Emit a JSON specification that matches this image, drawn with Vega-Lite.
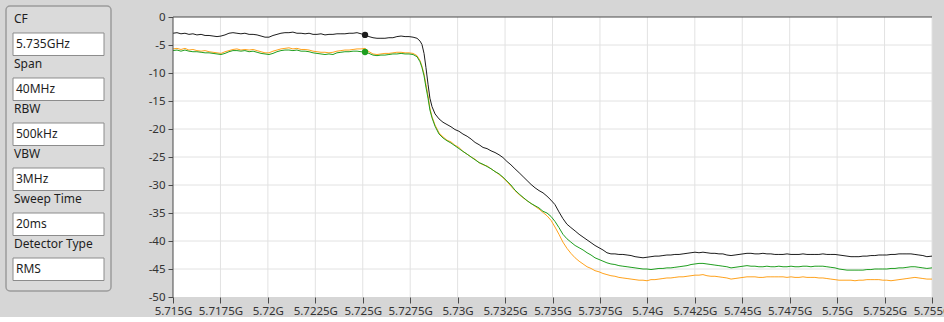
{
"$schema": "https://vega.github.io/schema/vega-lite/v6.json",
"background": "#d6d6d6",
"padding": {"left": 5, "top": 5, "right": 0, "bottom": 0},
"config": {"font": "Noto Sans", "view": {"stroke": null}},
"spacing": 36,
"hconcat": [
{
 "width": 105, "height": 285,
 "view": {"fill": "#dadada", "stroke": "#9c9c9c", "strokeWidth": 1.5, "cornerRadius": 4},
 "data": {"values": [
  {"label": "CF", "value": "5.735GHz"},
  {"label": "Span", "value": "40MHz"},
  {"label": "RBW", "value": "500kHz"},
  {"label": "VBW", "value": "3MHz"},
  {"label": "Sweep Time", "value": "20ms"},
  {"label": "Detector Type", "value": "RMS"}
 ]},
 "layer": [
  {"mark": {"type": "rect", "fill": "white", "stroke": "#8c8c8c", "strokeWidth": 1},
   "encoding": {
    "y": {"field": "value", "type": "nominal", "axis": null, "scale": {"type": "band", "domain": ["CF","5.735GHz","Span","40MHz","RBW","500kHz","VBW","3MHz","Sweep Time","20ms","Detector Type","RMS"], "paddingInner": 0, "paddingOuter": 0.3333, "align": 0.3}},
    "x": {"datum": 0, "type": "quantitative", "axis": null, "scale": {"domain": [0, 1], "padding": 7}},
    "x2": {"datum": 1}
   }},
  {"mark": {"type": "text", "align": "left", "baseline": "middle", "fontSize": 12, "color": "#1e1e1e", "dx": 1},
   "encoding": {
    "y": {"field": "label", "type": "nominal", "bandPosition": 0.38, "axis": null, "scale": {"type": "band", "domain": ["CF","5.735GHz","Span","40MHz","RBW","500kHz","VBW","3MHz","Sweep Time","20ms","Detector Type","RMS"], "paddingInner": 0, "paddingOuter": 0.3333, "align": 0.3}},
    "x": {"datum": 0, "type": "quantitative", "axis": null, "scale": {"domain": [0, 1], "padding": 7}},
    "text": {"field": "label"}
   }},
  {"mark": {"type": "text", "align": "left", "baseline": "middle", "fontSize": 12, "color": "#1e1e1e", "dx": 3},
   "encoding": {
    "y": {"field": "value", "type": "nominal", "bandPosition": 0.5, "axis": null, "scale": {"type": "band", "domain": ["CF","5.735GHz","Span","40MHz","RBW","500kHz","VBW","3MHz","Sweep Time","20ms","Detector Type","RMS"], "paddingInner": 0, "paddingOuter": 0.3333, "align": 0.3}},
    "x": {"datum": 0, "type": "quantitative", "axis": null, "scale": {"domain": [0, 1], "padding": 7}},
    "text": {"field": "value"}
   }}
 ]
},
{
 "width": 759, "height": 291,
 "view": {"fill": null, "stroke": null},
 "layer": [
  {
   "data": {"values": [{}]},
   "mark": {"type": "rect", "fill": "white"},
   "encoding": {
    "x": {"datum": 5.715, "type": "quantitative", "scale": {"domain": [5.715, 5.755], "nice": false, "zero": false},
     "axis": {"values": [5.715,5.7175,5.72,5.7225,5.725,5.7275,5.73,5.7325,5.735,5.7375,5.74,5.7425,5.745,5.7475,5.75,5.7525,5.755], "labelExpr": "format(datum.value, '.4~f') + 'G'", "grid": false, "domain": false, "tickColor": "#4a4a4a", "tickSize": 6, "labelPadding": 2, "labelFontSize": 11.5, "labelColor": "#333333", "labelFlush": false, "labelOverlap": false, "title": null}},
    "x2": {"datum": 5.755},
    "y": {"datum": 0, "type": "quantitative", "scale": {"domain": [-50, 0], "nice": false, "zero": false, "range": [291, 11]},
     "axis": {"values": [-50,-45,-40,-35,-30,-25,-20,-15,-10,-5,0], "labelExpr": "datum.value + ''", "grid": false, "domain": false, "tickColor": "#4a4a4a", "tickSize": 5, "labelPadding": 3, "labelFontSize": 11.5, "labelColor": "#333333", "labelFlush": false, "labelOverlap": false, "title": null}},
    "y2": {"datum": -50}
   }
  },
  {
   "data": {"values": [{"g":5.7175},{"g":5.72},{"g":5.7225},{"g":5.725},{"g":5.7275},{"g":5.73},{"g":5.7325},{"g":5.735},{"g":5.7375},{"g":5.74},{"g":5.7425},{"g":5.745},{"g":5.7475},{"g":5.75},{"g":5.7525},{"g":5.755}]},
   "mark": {"type": "rule", "color": "#e2e2e2", "strokeWidth": 1},
   "encoding": {
    "x": {"field": "g", "type": "quantitative", "scale": {"domain": [5.715, 5.755], "nice": false, "zero": false},
     "axis": {"values": [5.715,5.7175,5.72,5.7225,5.725,5.7275,5.73,5.7325,5.735,5.7375,5.74,5.7425,5.745,5.7475,5.75,5.7525,5.755], "labelExpr": "format(datum.value, '.4~f') + 'G'", "grid": false, "domain": false, "tickColor": "#4a4a4a", "tickSize": 6, "labelPadding": 2, "labelFontSize": 11.5, "labelColor": "#333333", "labelFlush": false, "labelOverlap": false, "title": null}},
    "y": {"datum": 0, "type": "quantitative", "scale": {"domain": [-50, 0], "nice": false, "zero": false, "range": [291, 11]},
     "axis": {"values": [-50,-45,-40,-35,-30,-25,-20,-15,-10,-5,0], "labelExpr": "datum.value + ''", "grid": false, "domain": false, "tickColor": "#4a4a4a", "tickSize": 5, "labelPadding": 3, "labelFontSize": 11.5, "labelColor": "#333333", "labelFlush": false, "labelOverlap": false, "title": null}},
    "y2": {"datum": -50}
   }
  },
  {
   "data": {"values": [{"h":-45},{"h":-40},{"h":-35},{"h":-30},{"h":-25},{"h":-20},{"h":-15},{"h":-10},{"h":-5}]},
   "mark": {"type": "rule", "color": "#e2e2e2", "strokeWidth": 1},
   "encoding": {
    "x": {"datum": 5.715, "type": "quantitative", "scale": {"domain": [5.715, 5.755], "nice": false, "zero": false},
     "axis": {"values": [5.715,5.7175,5.72,5.7225,5.725,5.7275,5.73,5.7325,5.735,5.7375,5.74,5.7425,5.745,5.7475,5.75,5.7525,5.755], "labelExpr": "format(datum.value, '.4~f') + 'G'", "grid": false, "domain": false, "tickColor": "#4a4a4a", "tickSize": 6, "labelPadding": 2, "labelFontSize": 11.5, "labelColor": "#333333", "labelFlush": false, "labelOverlap": false, "title": null}},
    "x2": {"datum": 5.755},
    "y": {"field": "h", "type": "quantitative", "scale": {"domain": [-50, 0], "nice": false, "zero": false, "range": [291, 11]},
     "axis": {"values": [-50,-45,-40,-35,-30,-25,-20,-15,-10,-5,0], "labelExpr": "datum.value + ''", "grid": false, "domain": false, "tickColor": "#4a4a4a", "tickSize": 5, "labelPadding": 3, "labelFontSize": 11.5, "labelColor": "#333333", "labelFlush": false, "labelOverlap": false, "title": null}}
   }
  },
  {
   "data": {"values": [
{"f":5.71500,"a":-2.9,"b":-5.7,"c":-6.0},
{"f":5.71521,"a":-2.8,"b":-5.6,"c":-5.9},
{"f":5.71542,"a":-3.0,"b":-5.8,"c":-6.1},
{"f":5.71563,"a":-2.9,"b":-5.6,"c":-5.9},
{"f":5.71584,"a":-3.1,"b":-5.9,"c":-6.1},
{"f":5.71605,"a":-3.0,"b":-5.8,"c":-6.2},
{"f":5.71626,"a":-3.2,"b":-6.0,"c":-6.2},
{"f":5.71648,"a":-3.1,"b":-6.1,"c":-6.3},
{"f":5.71669,"a":-3.3,"b":-6.0,"c":-6.4},
{"f":5.71690,"a":-3.3,"b":-6.2,"c":-6.4},
{"f":5.71711,"a":-3.4,"b":-6.3,"c":-6.5},
{"f":5.71732,"a":-3.5,"b":-6.4,"c":-6.6},
{"f":5.71753,"a":-3.4,"b":-6.5,"c":-6.7},
{"f":5.71774,"a":-3.2,"b":-6.2,"c":-6.5},
{"f":5.71795,"a":-2.9,"b":-6.0,"c":-6.2},
{"f":5.71816,"a":-2.8,"b":-5.8,"c":-6.0},
{"f":5.71837,"a":-2.9,"b":-5.7,"c":-6.0},
{"f":5.71858,"a":-3.0,"b":-5.9,"c":-6.1},
{"f":5.71879,"a":-2.9,"b":-5.8,"c":-6.0},
{"f":5.71901,"a":-3.1,"b":-5.9,"c":-6.2},
{"f":5.71922,"a":-3.1,"b":-5.8,"c":-6.1},
{"f":5.71943,"a":-3.2,"b":-6.0,"c":-6.3},
{"f":5.71964,"a":-3.4,"b":-6.2,"c":-6.5},
{"f":5.71985,"a":-3.6,"b":-6.4,"c":-6.6},
{"f":5.72006,"a":-3.6,"b":-6.4,"c":-6.7},
{"f":5.72027,"a":-3.3,"b":-6.1,"c":-6.5},
{"f":5.72048,"a":-3.1,"b":-5.9,"c":-6.2},
{"f":5.72069,"a":-2.9,"b":-5.7,"c":-6.0},
{"f":5.72090,"a":-2.8,"b":-5.6,"c":-5.9},
{"f":5.72111,"a":-2.8,"b":-5.5,"c":-5.9},
{"f":5.72132,"a":-2.7,"b":-5.7,"c":-6.0},
{"f":5.72153,"a":-2.9,"b":-5.6,"c":-5.9},
{"f":5.72175,"a":-2.9,"b":-5.8,"c":-6.1},
{"f":5.72196,"a":-3.0,"b":-5.8,"c":-6.1},
{"f":5.72217,"a":-2.9,"b":-5.9,"c":-6.2},
{"f":5.72238,"a":-3.1,"b":-6.1,"c":-6.4},
{"f":5.72259,"a":-3.1,"b":-6.2,"c":-6.5},
{"f":5.72280,"a":-3.0,"b":-6.3,"c":-6.6},
{"f":5.72301,"a":-3.2,"b":-6.3,"c":-6.7},
{"f":5.72322,"a":-3.1,"b":-6.4,"c":-6.6},
{"f":5.72343,"a":-3.1,"b":-6.3,"c":-6.7},
{"f":5.72364,"a":-3.0,"b":-6.1,"c":-6.4},
{"f":5.72385,"a":-3.0,"b":-6.0,"c":-6.3},
{"f":5.72406,"a":-3.0,"b":-5.9,"c":-6.2},
{"f":5.72428,"a":-2.9,"b":-5.9,"c":-6.2},
{"f":5.72449,"a":-2.9,"b":-5.8,"c":-6.1},
{"f":5.72470,"a":-2.8,"b":-5.7,"c":-6.1},
{"f":5.72491,"a":-3.0,"b":-5.7,"c":-6.2},
{"f":5.72512,"a":-3.2,"b":-5.6,"c":-6.25},
{"f":5.72533,"a":-3.5,"b":-6.2,"c":-6.5},
{"f":5.72554,"a":-3.7,"b":-6.6,"c":-6.8},
{"f":5.72575,"a":-3.8,"b":-6.7,"c":-6.9},
{"f":5.72596,"a":-3.8,"b":-6.6,"c":-6.8},
{"f":5.72617,"a":-3.8,"b":-6.5,"c":-6.8},
{"f":5.72638,"a":-3.7,"b":-6.5,"c":-6.7},
{"f":5.72659,"a":-3.7,"b":-6.4,"c":-6.6},
{"f":5.72680,"a":-3.5,"b":-6.3,"c":-6.6},
{"f":5.72702,"a":-3.4,"b":-6.3,"c":-6.5},
{"f":5.72723,"a":-3.5,"b":-6.4,"c":-6.6},
{"f":5.72744,"a":-3.5,"b":-6.4,"c":-6.6},
{"f":5.72765,"a":-3.6,"b":-6.5,"c":-6.7},
{"f":5.72786,"a":-3.8,"b":-6.9,"c":-7.1},
{"f":5.72802,"a":-4.3,"b":-7.8,"c":-8.0},
{"f":5.72812,"a":-4.9,"b":-8.8,"c":-9.0},
{"f":5.72823,"a":-6.5,"b":-10.2,"c":-10.5},
{"f":5.72833,"a":-9.0,"b":-12.0,"c":-12.5},
{"f":5.72844,"a":-12.0,"b":-14.0,"c":-14.5},
{"f":5.72854,"a":-14.5,"b":-16.3,"c":-16.6},
{"f":5.72865,"a":-16.0,"b":-17.8,"c":-18.0},
{"f":5.72881,"a":-17.3,"b":-19.3,"c":-19.5},
{"f":5.72902,"a":-18.2,"b":-20.7,"c":-20.9},
{"f":5.72923,"a":-18.8,"b":-21.4,"c":-21.6},
{"f":5.72944,"a":-19.2,"b":-22.0,"c":-22.1},
{"f":5.72965,"a":-19.6,"b":-22.3,"c":-22.5},
{"f":5.72986,"a":-20.1,"b":-22.9,"c":-23.0},
{"f":5.73007,"a":-20.4,"b":-23.3,"c":-23.5},
{"f":5.73028,"a":-20.9,"b":-24.0,"c":-24.0},
{"f":5.73050,"a":-21.3,"b":-24.5,"c":-24.5},
{"f":5.73071,"a":-21.8,"b":-25.0,"c":-25.0},
{"f":5.73092,"a":-22.4,"b":-25.4,"c":-25.5},
{"f":5.73113,"a":-22.8,"b":-26.0,"c":-26.0},
{"f":5.73134,"a":-23.3,"b":-26.4,"c":-26.3},
{"f":5.73155,"a":-23.5,"b":-26.6,"c":-26.7},
{"f":5.73176,"a":-23.9,"b":-27.1,"c":-27.1},
{"f":5.73197,"a":-24.2,"b":-27.6,"c":-27.6},
{"f":5.73218,"a":-24.6,"b":-28.1,"c":-28.0},
{"f":5.73239,"a":-25.1,"b":-28.7,"c":-28.6},
{"f":5.73260,"a":-25.8,"b":-29.4,"c":-29.3},
{"f":5.73281,"a":-26.4,"b":-30.2,"c":-30.0},
{"f":5.73302,"a":-27.1,"b":-31.0,"c":-30.9},
{"f":5.73324,"a":-27.8,"b":-31.7,"c":-31.6},
{"f":5.73345,"a":-28.5,"b":-32.3,"c":-32.2},
{"f":5.73366,"a":-29.2,"b":-32.8,"c":-32.8},
{"f":5.73387,"a":-29.9,"b":-33.3,"c":-33.3},
{"f":5.73408,"a":-30.5,"b":-33.8,"c":-33.7},
{"f":5.73429,"a":-31.0,"b":-34.3,"c":-34.1},
{"f":5.73450,"a":-31.4,"b":-34.9,"c":-34.7},
{"f":5.73471,"a":-32.0,"b":-35.5,"c":-35.0},
{"f":5.73492,"a":-32.7,"b":-36.3,"c":-35.6},
{"f":5.73513,"a":-33.5,"b":-37.5,"c":-36.5},
{"f":5.73534,"a":-34.8,"b":-38.8,"c":-37.6},
{"f":5.73555,"a":-36.0,"b":-40.2,"c":-38.8},
{"f":5.73576,"a":-37.0,"b":-41.3,"c":-39.6},
{"f":5.73597,"a":-37.6,"b":-42.2,"c":-40.2},
{"f":5.73619,"a":-38.2,"b":-43.0,"c":-40.8},
{"f":5.73640,"a":-38.8,"b":-43.6,"c":-41.2},
{"f":5.73661,"a":-39.3,"b":-44.1,"c":-41.6},
{"f":5.73682,"a":-39.8,"b":-44.6,"c":-42.1},
{"f":5.73703,"a":-40.3,"b":-44.9,"c":-42.5},
{"f":5.73724,"a":-40.8,"b":-45.3,"c":-43.0},
{"f":5.73745,"a":-41.2,"b":-45.5,"c":-43.3},
{"f":5.73766,"a":-41.6,"b":-45.8,"c":-43.6},
{"f":5.73787,"a":-42.1,"b":-46.0,"c":-43.9},
{"f":5.73808,"a":-42.3,"b":-46.2,"c":-44.1},
{"f":5.73829,"a":-42.3,"b":-46.3,"c":-44.2},
{"f":5.73850,"a":-42.4,"b":-46.5,"c":-44.4},
{"f":5.73871,"a":-42.4,"b":-46.6,"c":-44.5},
{"f":5.73893,"a":-42.5,"b":-46.7,"c":-44.6},
{"f":5.73914,"a":-42.6,"b":-46.8,"c":-44.7},
{"f":5.73935,"a":-42.8,"b":-46.9,"c":-44.8},
{"f":5.73956,"a":-42.9,"b":-47.0,"c":-44.9},
{"f":5.73977,"a":-43.0,"b":-47.0,"c":-45.0},
{"f":5.73998,"a":-42.9,"b":-47.1,"c":-45.0},
{"f":5.74019,"a":-42.8,"b":-46.9,"c":-45.1},
{"f":5.74040,"a":-42.7,"b":-46.9,"c":-45.0},
{"f":5.74061,"a":-42.7,"b":-46.8,"c":-44.9},
{"f":5.74082,"a":-42.6,"b":-46.7,"c":-44.9},
{"f":5.74103,"a":-42.5,"b":-46.6,"c":-44.8},
{"f":5.74124,"a":-42.5,"b":-46.6,"c":-44.8},
{"f":5.74145,"a":-42.4,"b":-46.5,"c":-44.7},
{"f":5.74167,"a":-42.4,"b":-46.4,"c":-44.6},
{"f":5.74188,"a":-42.3,"b":-46.4,"c":-44.5},
{"f":5.74209,"a":-42.2,"b":-46.3,"c":-44.4},
{"f":5.74230,"a":-42.1,"b":-46.2,"c":-44.2},
{"f":5.74251,"a":-42.0,"b":-46.1,"c":-44.1},
{"f":5.74272,"a":-42.1,"b":-46.1,"c":-44.0},
{"f":5.74293,"a":-42.0,"b":-46.0,"c":-44.0},
{"f":5.74314,"a":-42.1,"b":-46.2,"c":-44.1},
{"f":5.74335,"a":-42.2,"b":-46.3,"c":-44.2},
{"f":5.74356,"a":-42.2,"b":-46.3,"c":-44.3},
{"f":5.74377,"a":-42.3,"b":-46.4,"c":-44.4},
{"f":5.74398,"a":-42.3,"b":-46.5,"c":-44.5},
{"f":5.74419,"a":-42.5,"b":-46.6,"c":-44.6},
{"f":5.74441,"a":-42.6,"b":-46.8,"c":-44.8},
{"f":5.74462,"a":-42.5,"b":-46.7,"c":-44.7},
{"f":5.74483,"a":-42.4,"b":-46.6,"c":-44.6},
{"f":5.74504,"a":-42.3,"b":-46.5,"c":-44.5},
{"f":5.74525,"a":-42.2,"b":-46.4,"c":-44.4},
{"f":5.74546,"a":-42.2,"b":-46.4,"c":-44.5},
{"f":5.74567,"a":-42.3,"b":-46.4,"c":-44.5},
{"f":5.74588,"a":-42.3,"b":-46.5,"c":-44.6},
{"f":5.74609,"a":-42.2,"b":-46.5,"c":-44.6},
{"f":5.74630,"a":-42.3,"b":-46.4,"c":-44.5},
{"f":5.74651,"a":-42.3,"b":-46.4,"c":-44.6},
{"f":5.74672,"a":-42.4,"b":-46.4,"c":-44.6},
{"f":5.74693,"a":-42.4,"b":-46.4,"c":-44.5},
{"f":5.74715,"a":-42.4,"b":-46.4,"c":-44.6},
{"f":5.74736,"a":-42.3,"b":-46.5,"c":-44.6},
{"f":5.74757,"a":-42.4,"b":-46.4,"c":-44.5},
{"f":5.74778,"a":-42.4,"b":-46.5,"c":-44.6},
{"f":5.74799,"a":-42.4,"b":-46.5,"c":-44.6},
{"f":5.74820,"a":-42.3,"b":-46.4,"c":-44.5},
{"f":5.74841,"a":-42.4,"b":-46.5,"c":-44.5},
{"f":5.74862,"a":-42.4,"b":-46.5,"c":-44.6},
{"f":5.74883,"a":-42.4,"b":-46.5,"c":-44.5},
{"f":5.74904,"a":-42.4,"b":-46.6,"c":-44.5},
{"f":5.74925,"a":-42.3,"b":-46.6,"c":-44.5},
{"f":5.74946,"a":-42.4,"b":-46.7,"c":-44.6},
{"f":5.74967,"a":-42.4,"b":-46.8,"c":-44.7},
{"f":5.74989,"a":-42.4,"b":-46.9,"c":-44.8},
{"f":5.75010,"a":-42.5,"b":-47.0,"c":-45.0},
{"f":5.75031,"a":-42.6,"b":-47.0,"c":-45.1},
{"f":5.75052,"a":-42.7,"b":-47.0,"c":-45.2},
{"f":5.75073,"a":-42.8,"b":-47.0,"c":-45.2},
{"f":5.75094,"a":-42.8,"b":-47.1,"c":-45.2},
{"f":5.75115,"a":-42.8,"b":-47.0,"c":-45.2},
{"f":5.75136,"a":-42.7,"b":-47.0,"c":-45.2},
{"f":5.75157,"a":-42.7,"b":-46.9,"c":-45.1},
{"f":5.75178,"a":-42.6,"b":-46.9,"c":-45.1},
{"f":5.75199,"a":-42.6,"b":-46.9,"c":-45.0},
{"f":5.75220,"a":-42.5,"b":-46.9,"c":-45.0},
{"f":5.75241,"a":-42.5,"b":-47.0,"c":-45.0},
{"f":5.75262,"a":-42.5,"b":-47.0,"c":-45.0},
{"f":5.75284,"a":-42.4,"b":-47.1,"c":-44.9},
{"f":5.75305,"a":-42.4,"b":-47.0,"c":-44.9},
{"f":5.75326,"a":-42.3,"b":-46.9,"c":-44.8},
{"f":5.75347,"a":-42.3,"b":-46.8,"c":-44.8},
{"f":5.75368,"a":-42.3,"b":-46.7,"c":-44.7},
{"f":5.75389,"a":-42.3,"b":-46.6,"c":-44.6},
{"f":5.75410,"a":-42.4,"b":-46.5,"c":-44.6},
{"f":5.75431,"a":-42.5,"b":-46.6,"c":-44.7},
{"f":5.75452,"a":-42.6,"b":-46.7,"c":-44.8},
{"f":5.75473,"a":-42.8,"b":-46.8,"c":-44.9},
{"f":5.75500,"a":-42.7,"b":-46.8,"c":-44.8}
   ]},
   "transform": [{"fold": ["a", "b", "c"], "as": ["s", "v"]}],
   "mark": {"type": "line", "strokeWidth": 1},
   "encoding": {
    "x": {"field": "f", "type": "quantitative", "scale": {"domain": [5.715, 5.755], "nice": false, "zero": false},
     "axis": {"values": [5.715,5.7175,5.72,5.7225,5.725,5.7275,5.73,5.7325,5.735,5.7375,5.74,5.7425,5.745,5.7475,5.75,5.7525,5.755], "labelExpr": "format(datum.value, '.4~f') + 'G'", "grid": false, "domain": false, "tickColor": "#4a4a4a", "tickSize": 6, "labelPadding": 2, "labelFontSize": 11.5, "labelColor": "#333333", "labelFlush": false, "labelOverlap": false, "title": null}},
    "y": {"field": "v", "type": "quantitative", "scale": {"domain": [-50, 0], "nice": false, "zero": false, "range": [291, 11]},
     "axis": {"values": [-50,-45,-40,-35,-30,-25,-20,-15,-10,-5,0], "labelExpr": "datum.value + ''", "grid": false, "domain": false, "tickColor": "#4a4a4a", "tickSize": 5, "labelPadding": 3, "labelFontSize": 11.5, "labelColor": "#333333", "labelFlush": false, "labelOverlap": false, "title": null}},
    "color": {"field": "s", "type": "nominal", "scale": {"domain": ["a", "b", "c"], "range": ["#1c1c1c", "#ffa21c", "#1f9e1f"]}, "legend": null}
   }
  },
  {
   "data": {"values": [{}]},
   "mark": {"type": "rule", "color": "#4a4a4a", "strokeWidth": 1},
   "encoding": {
    "x": {"datum": 5.715, "type": "quantitative", "scale": {"domain": [5.715, 5.755], "nice": false, "zero": false},
     "axis": {"values": [5.715,5.7175,5.72,5.7225,5.725,5.7275,5.73,5.7325,5.735,5.7375,5.74,5.7425,5.745,5.7475,5.75,5.7525,5.755], "labelExpr": "format(datum.value, '.4~f') + 'G'", "grid": false, "domain": false, "tickColor": "#4a4a4a", "tickSize": 6, "labelPadding": 2, "labelFontSize": 11.5, "labelColor": "#333333", "labelFlush": false, "labelOverlap": false, "title": null}},
    "y": {"datum": 0, "type": "quantitative", "scale": {"domain": [-50, 0], "nice": false, "zero": false, "range": [291, 11]},
     "axis": {"values": [-50,-45,-40,-35,-30,-25,-20,-15,-10,-5,0], "labelExpr": "datum.value + ''", "grid": false, "domain": false, "tickColor": "#4a4a4a", "tickSize": 5, "labelPadding": 3, "labelFontSize": 11.5, "labelColor": "#333333", "labelFlush": false, "labelOverlap": false, "title": null}},
    "y2": {"datum": -50}
   }
  },
  {
   "data": {"values": [{}]},
   "mark": {"type": "rule", "color": "#4a4a4a", "strokeWidth": 1},
   "encoding": {
    "x": {"datum": 5.715, "type": "quantitative", "scale": {"domain": [5.715, 5.755], "nice": false, "zero": false},
     "axis": {"values": [5.715,5.7175,5.72,5.7225,5.725,5.7275,5.73,5.7325,5.735,5.7375,5.74,5.7425,5.745,5.7475,5.75,5.7525,5.755], "labelExpr": "format(datum.value, '.4~f') + 'G'", "grid": false, "domain": false, "tickColor": "#4a4a4a", "tickSize": 6, "labelPadding": 2, "labelFontSize": 11.5, "labelColor": "#333333", "labelFlush": false, "labelOverlap": false, "title": null}},
    "x2": {"datum": 5.755},
    "y": {"datum": 0, "type": "quantitative", "scale": {"domain": [-50, 0], "nice": false, "zero": false, "range": [291, 11]},
     "axis": {"values": [-50,-45,-40,-35,-30,-25,-20,-15,-10,-5,0], "labelExpr": "datum.value + ''", "grid": false, "domain": false, "tickColor": "#4a4a4a", "tickSize": 5, "labelPadding": 3, "labelFontSize": 11.5, "labelColor": "#333333", "labelFlush": false, "labelOverlap": false, "title": null}}
   }
  },
  {
   "data": {"values": [{"f": 5.72512, "v": -3.2, "s": "a"}, {"f": 5.72512, "v": -6.25, "s": "c"}]},
   "mark": {"type": "point", "filled": true, "size": 40, "opacity": 1},
   "encoding": {
    "x": {"field": "f", "type": "quantitative", "scale": {"domain": [5.715, 5.755], "nice": false, "zero": false},
     "axis": {"values": [5.715,5.7175,5.72,5.7225,5.725,5.7275,5.73,5.7325,5.735,5.7375,5.74,5.7425,5.745,5.7475,5.75,5.7525,5.755], "labelExpr": "format(datum.value, '.4~f') + 'G'", "grid": false, "domain": false, "tickColor": "#4a4a4a", "tickSize": 6, "labelPadding": 2, "labelFontSize": 11.5, "labelColor": "#333333", "labelFlush": false, "labelOverlap": false, "title": null}},
    "y": {"field": "v", "type": "quantitative", "scale": {"domain": [-50, 0], "nice": false, "zero": false, "range": [291, 11]},
     "axis": {"values": [-50,-45,-40,-35,-30,-25,-20,-15,-10,-5,0], "labelExpr": "datum.value + ''", "grid": false, "domain": false, "tickColor": "#4a4a4a", "tickSize": 5, "labelPadding": 3, "labelFontSize": 11.5, "labelColor": "#333333", "labelFlush": false, "labelOverlap": false, "title": null}},
    "color": {"field": "s", "type": "nominal", "scale": {"domain": ["a", "b", "c"], "range": ["#1c1c1c", "#ffa21c", "#1f9e1f"]}, "legend": null}
   }
  }
 ]
}
]
}
